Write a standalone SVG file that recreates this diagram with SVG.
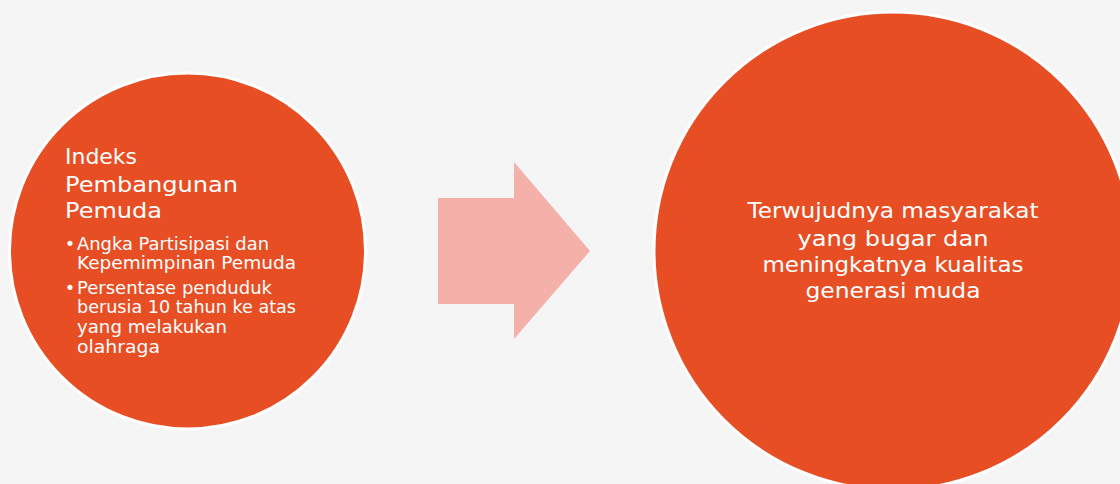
<svg xmlns="http://www.w3.org/2000/svg" width="1120" height="484" viewBox="0 0 1120 484">
<style>
.c{fill:#e84e24;stroke:#ffffff;stroke-width:3}
.t{font-family:"DejaVu Sans","Liberation Sans",sans-serif;fill:#ffffff}
.h{font-size:21px}
.b{font-size:17px}
.r{font-size:22px;text-anchor:middle}
</style>
<rect width="1120" height="484" fill="#f5f5f5"/>
<g id="node-left">
<circle class="c" cx="187.5" cy="251" r="178"/>
<text class="t h" x="65" y="164" textLength="72" lengthAdjust="spacingAndGlyphs">Indeks</text>
<text class="t h" x="65" y="192" textLength="173" lengthAdjust="spacingAndGlyphs">Pembangunan</text>
<text class="t h" x="65" y="218" textLength="97" lengthAdjust="spacingAndGlyphs">Pemuda</text>
<text class="t b" x="65" y="250">•</text>
<text class="t b" x="77" y="250" textLength="192" lengthAdjust="spacingAndGlyphs">Angka Partisipasi dan</text>
<text class="t b" x="77" y="269" textLength="219" lengthAdjust="spacingAndGlyphs">Kepemimpinan Pemuda</text>
<text class="t b" x="65" y="294">•</text>
<text class="t b" x="77" y="294" textLength="195" lengthAdjust="spacingAndGlyphs">Persentase penduduk</text>
<text class="t b" x="77" y="313" textLength="219" lengthAdjust="spacingAndGlyphs">berusia 10 tahun ke atas</text>
<text class="t b" x="77" y="333" textLength="150" lengthAdjust="spacingAndGlyphs">yang melakukan</text>
<text class="t b" x="77" y="353" textLength="83" lengthAdjust="spacingAndGlyphs">olahraga</text>
</g>
<g id="connectors">
<polygon points="438,198 514,198 514,162 590,251 514,339 514,304 438,304" fill="#f4b1aa"/>
</g>
<g id="node-right">
<circle class="c" cx="893" cy="251" r="239"/>
<text class="t r" x="893" y="218" textLength="291" lengthAdjust="spacingAndGlyphs">Terwujudnya masyarakat</text>
<text class="t r" x="893" y="246" textLength="191" lengthAdjust="spacingAndGlyphs">yang bugar dan</text>
<text class="t r" x="893" y="272" textLength="261" lengthAdjust="spacingAndGlyphs">meningkatnya kualitas</text>
<text class="t r" x="893" y="298" textLength="175" lengthAdjust="spacingAndGlyphs">generasi muda</text>
</g>
</svg>
